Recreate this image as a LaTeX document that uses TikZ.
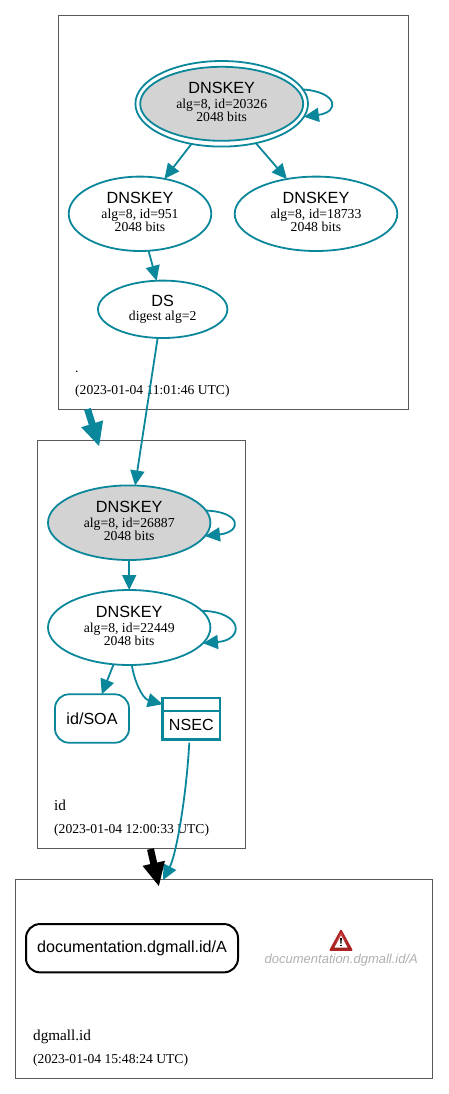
\documentclass[tikz,border=0pt]{standalone}
\usepackage{fontspec}
\setmainfont{Liberation Serif}
\newfontfamily\helv{Liberation Sans}
\usetikzlibrary{arrows.meta,shapes.geometric}
\definecolor{dnsteal}{HTML}{0A879A}
\definecolor{keygray}{RGB}{211,211,211}
\definecolor{warngray}{RGB}{176,176,176}
\definecolor{warnred}{RGB}{205,40,40}
\tikzset{
  zonebox/.style={draw=black!65, line width=0.8pt, inner sep=0pt, outer sep=0pt},
  keybase/.style={ellipse, draw=dnsteal, line width=1.8pt, inner sep=0pt, outer sep=0pt, align=center,
                  font=\fontsize{13.7}{13}\selectfont},
  key/.style={keybase, fill=white},
  sep/.style={keybase, fill=keygray},
  rrset/.style={rectangle, rounded corners=14pt, draw=dnsteal, line width=1.8pt, outer sep=0pt,
                font=\helv\fontsize{16.1}{18}\selectfont},
  nsecbox/.style={rectangle, draw=dnsteal, line width=2.4pt, inner sep=0pt, outer sep=0pt, minimum width=57.4pt,
                  font=\helv\fontsize{16.1}{18}\selectfont},
  lbl/.style={anchor=base west, inner sep=0pt, font=\fontsize{13.6}{14}\selectfont},
  namelbl/.style={lbl, font=\fontsize{15.2}{16}\selectfont},
  edge/.style={-{Triangle[length=15pt,width=14pt]}, line width=1.8pt, dnsteal},
  deleg/.style={-{Triangle[length=24pt,width=21pt]}, line width=7pt}
}
\newcommand{\keytext}[2]{{\helv\fontsize{16.2}{16}\selectfont DNSKEY}\\[2pt] alg=8, id=#1\\ #2 bits\rule[-3pt]{0pt}{3pt}}
\begin{document}
\begin{tikzpicture}[x=1pt, y=-1pt]
\useasboundingbox (0,0) rectangle (448,1094);
% zones
\node[zonebox, minimum width=349.5pt, minimum height=393.5pt] (rootzone) at (233.25,212.25) {};
\node[zonebox, minimum width=208pt, minimum height=408.3pt] (idzone) at (141.3,644.15) {};
\node[zonebox, minimum width=416.3pt, minimum height=199pt] (dgzone) at (223.85,978.8) {};
\node[lbl] (rootname) at (75,372) {.};
\node[lbl] (rootdate) at (75,394.5) {(2023-01-04 11:01:46 UTC)};
\node[namelbl] (idname) at (54,810.5) {id};
\node[lbl] (iddate) at (54,833.5) {(2023-01-04 12:00:33 UTC)};
\node[namelbl] (dgname) at (33,1040) {dgmall.id};
\node[lbl] (dgdate) at (33,1063.5) {(2023-01-04 15:48:24 UTC)};
% keys of the root
\node[key, minimum width=172.6pt, minimum height=85.6pt] (kskring) at (221.7,103.8) {};
\node[sep, minimum width=163pt, minimum height=74pt] (ksk) at (221.7,103.8) {\keytext{20326}{2048}};
\node[key, minimum width=142.6pt, minimum height=74.4pt] (zsk) at (140,213.8) {\keytext{951}{2048}};
\node[key, minimum width=162.6pt, minimum height=74.4pt] (zskb) at (316,213.8) {\keytext{18733}{2048}};
\node[key, minimum width=129.4pt, minimum height=57.4pt] (ds) at (162.7,309.3) {{\helv\fontsize{16.2}{16}\selectfont DS}\\[1.5pt] digest alg=2};
% keys of id
\node[sep, minimum width=162.4pt, minimum height=74.6pt] (idksk) at (129.2,522.7) {\keytext{26887}{2048}};
\node[key, minimum width=162.4pt, minimum height=75pt] (idzsk) at (129.2,627.5) {\keytext{22449}{2048}};
\node[rrset, minimum width=74pt, minimum height=48.4pt] (soa) at (92,718.5) {id/SOA};
\node[nsecbox, minimum height=13pt] (nsechead) at (191.35,704.2) {};
\node[nsecbox, minimum height=28.6pt] (nsec) at (191.35,725) {NSEC};
% dgmall.id
\node[rrset, draw=black, line width=2pt, minimum width=212pt, minimum height=48.3pt] (doca) at (132,948.2) {documentation.dgmall.id/A};
\node[anchor=base, inner sep=0pt, text=warngray, font=\helv\itshape\fontsize{13}{14}\selectfont] (warnlbl) at (341.3,963) {documentation.dgmall.id/A};
\draw[warnred!85!black, line width=1.6pt, line join=round, top color=warnred!80!white, bottom color=warnred!70!black] (341,930.5) -- (351.7,950) -- (330.3,950) -- cycle;
\fill[white] (341,935.5) -- (347.6,947.7) -- (334.4,947.7) -- cycle;
\fill[black] (340.1,938) -- (341.9,938) -- (341.5,943.6) -- (340.5,943.6) -- cycle;
\fill[black] (340.2,944.5) rectangle (341.8,946.3);
% free ends
\coordinate (rootout) at (87.5,409);
\coordinate (idin) at (99.3,446.7);
\coordinate (idout) at (150.5,849);
\coordinate (dgin) at (159,886.7);
\coordinate (nsecout) at (189.3,742.7);
\coordinate (nsecin) at (163,880);
% edges
\draw[edge] (kskring.-127) -- (zsk.55);
\draw[edge] (kskring.-49) -- (zskb.130);
\draw[edge] (zsk.-77) -- (ds.102);
\draw[edge] (ds.-100) -- (idksk.81);
\draw[edge] (idksk.-90) -- (idzsk.90);
\draw[edge] (idzsk.-113) -- (soa.68);
\draw[edge] (idzsk.-86) .. controls (134,680) and (142,698.5) .. (nsechead.west);
\draw[edge] (nsecout) .. controls (186,800) and (176,855) .. (nsecin);
\draw[edge] (kskring.10) .. controls (338,92) and (340,112) .. (kskring.-9);
\draw[edge] (idksk.9) .. controls (242,512) and (242,532) .. (idksk.-10);
\draw[edge] (idzsk.13) .. controls (244,612) and (244,640) .. (idzsk.-12);
\draw[deleg, dnsteal] (rootout) -- (idin);
\draw[deleg, black] (idout) -- (dgin);
\end{tikzpicture}
\end{document}
